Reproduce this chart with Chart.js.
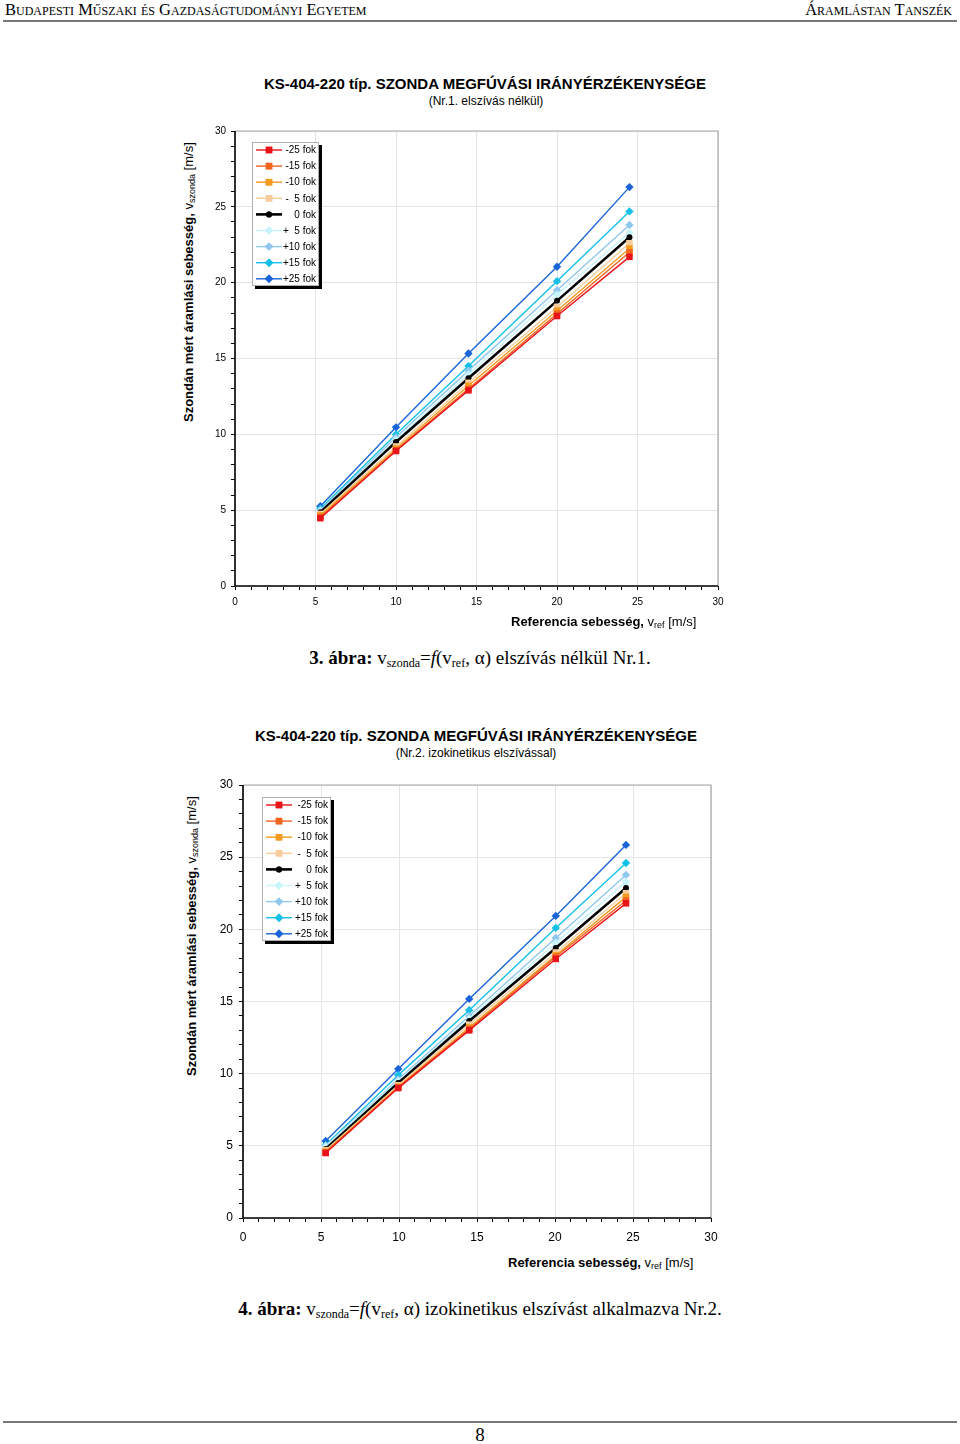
<!DOCTYPE html>
<html><head><meta charset="utf-8">
<script src="https://cdn.jsdelivr.net/npm/chart.js@4/dist/chart.umd.min.js"></script>
<style>
html,body{margin:0;padding:0;background:#fff;}
body{width:960px;height:1444px;position:relative;overflow:hidden;font-family:"Liberation Sans",Arial,sans-serif;}
.abs{position:absolute;}
.hdr{font-family:"Liberation Serif","Times New Roman",serif;font-variant:small-caps;font-size:16.5px;top:0px;color:#000;}
.rule{position:absolute;left:3px;width:954px;height:2px;background:#777;}
.title{position:absolute;width:960px;text-align:center;font-weight:bold;font-size:15px;}
.sub{position:absolute;width:960px;text-align:center;font-size:12px;}
.cap{position:absolute;left:0;width:960px;text-align:center;font-family:"Liberation Serif","Times New Roman",serif;font-size:19px;}
.cap sub{font-size:12px;vertical-align:-3px;line-height:0;}
.axt{position:absolute;font-weight:bold;font-size:13px;white-space:nowrap;}
.axt .n{font-weight:normal;}
.axt sub{font-size:9px;font-weight:normal;vertical-align:-2px;line-height:0;}
.yt{transform-origin:0 0;transform:rotate(-90deg);}
canvas{position:absolute;}
</style></head>
<body>
<div class="abs hdr" style="left:5px;">Budapesti Műszaki és Gazdaságtudományi Egyetem</div>
<div class="abs hdr" style="right:8px;">Áramlástan Tanszék</div>
<div class="rule" style="top:20px;"></div>

<div class="title" style="left:5px;top:75px;">KS-404-220 típ. SZONDA MEGFÚVÁSI IRÁNYÉRZÉKENYSÉGE</div>
<div class="sub" style="left:6px;top:94px;">(Nr.1. elszívás nélkül)</div>
<div style="position:absolute;left:200px;top:120px;width:540px;height:500px;"><canvas id="c1" width="540" height="500"></canvas></div>
<div class="axt yt" style="left:181px;top:422px;">Szondán mért áramlási sebesség, <span class="n">v<sub>szonda</sub> [m/s]</span></div>
<div class="axt" style="left:511px;top:614px;">Referencia sebesség, <span class="n">v<sub>ref</sub> [m/s]</span></div>
<div class="cap" style="top:647px;"><b>3. ábra:</b> v<sub>szonda</sub>=<i>f</i>(v<sub>ref</sub>, α) elszívás nélkül Nr.1.</div>

<div class="title" style="left:-4px;top:727px;">KS-404-220 típ. SZONDA MEGFÚVÁSI IRÁNYÉRZÉKENYSÉGE</div>
<div class="sub" style="left:-4px;top:746px;">(Nr.2. izokinetikus elszívással)</div>
<div style="position:absolute;left:200px;top:770px;width:540px;height:482px;"><canvas id="c2" width="540" height="482"></canvas></div>
<div class="axt yt" style="left:184px;top:1076px;">Szondán mért áramlási sebesség, <span class="n">v<sub>szonda</sub> [m/s]</span></div>
<div class="axt" style="left:508px;top:1255px;">Referencia sebesség, <span class="n">v<sub>ref</sub> [m/s]</span></div>
<div class="cap" style="top:1298px;"><b>4. ábra:</b> v<sub>szonda</sub>=<i>f</i>(v<sub>ref</sub>, α) izokinetikus elszívást alkalmazva Nr.2.</div>

<div class="rule" style="top:1421px;"></div>
<div class="abs" style="left:0;width:960px;text-align:center;top:1424px;font-family:'Liberation Serif',serif;font-size:19px;">8</div>

<script>
// ---- data ----
const seriesLabels = ["-25 fok","-15 fok","-10 fok","-  5 fok","0 fok","+  5 fok","+10 fok","+15 fok","+25 fok"];
const seriesColors = ["#e8141a","#f0641e","#f49a1e","#f8cc9c","#000000","#c8f4fc","#90c8ee","#14c0e8","#1a64d8"];
const seriesMarkers = ["rect","rect","rect","rect","circle","rectRot","rectRot","rectRot","rectRot"];
const xTicks = [0,5,10,15,20,25,30];
const yTicks = [0,5,10,15,20,25,30];

// chart 1 (Nr.1. elszívás nélkül)
const vref1 = [5.3, 10.0, 14.5, 20.0, 24.5];
const c1_m25 = [4.47, 8.90, 12.90, 17.80, 21.70];
const c1_m15 = [4.55, 8.95, 13.00, 17.95, 22.00];
const c1_m10 = [4.65, 9.05, 13.20, 18.15, 22.25];
const c1_m5  = [4.75, 9.20, 13.40, 18.40, 22.60];
const c1_0   = [4.87, 9.50, 13.70, 18.80, 23.00];
const c1_p5  = [4.95, 9.65, 13.95, 19.20, 23.30];
const c1_p10 = [5.00, 9.80, 14.20, 19.50, 23.80];
const c1_p15 = [5.10, 10.00, 14.50, 20.10, 24.70];
const c1_p25 = [5.26, 10.46, 15.33, 21.05, 26.30];

// chart 2 (Nr.2. izokinetikus elszívással)
const vref2 = [5.3, 9.95, 14.5, 20.05, 24.55];
const c2_m25 = [4.50, 9.00, 13.00, 17.95, 21.80];
const c2_m15 = [4.55, 9.05, 13.10, 18.10, 22.00];
const c2_m10 = [4.60, 9.10, 13.20, 18.20, 22.25];
const c2_m5  = [4.70, 9.20, 13.40, 18.40, 22.50];
const c2_0   = [4.78, 9.36, 13.65, 18.70, 22.87];
const c2_p5  = [4.95, 9.50, 13.80, 19.06, 23.30];
const c2_p10 = [5.00, 9.60, 14.00, 19.40, 23.77];
const c2_p15 = [5.06, 9.90, 14.40, 20.10, 24.60];
const c2_p25 = [5.34, 10.33, 15.18, 20.93, 25.85];

function makeDatasets(vref, list){
  return list.map((vals,i)=>({
    label: seriesLabels[i],
    data: vals.map((v,j)=>({x:vref[j], y:v})),
    borderColor: seriesColors[i],
    backgroundColor: seriesColors[i],
    borderWidth: i===4 ? 2.6 : 1.4,
    pointStyle: seriesMarkers[i],
    pointRadius: seriesMarkers[i]==='circle' ? 3 : (seriesMarkers[i]==='rect' ? 4.6 : 4.2),
    pointBorderWidth: 0,
    pointHoverRadius: 4,
    showLine: true,
    tension: 0
  }));
}

const frame = {
  id:'frame',
  afterDraw(chart, args, opts){
    const {ctx, chartArea:a} = chart;
    ctx.save();
    ctx.strokeStyle = '#a8a8a8'; ctx.lineWidth = 1.2;
    ctx.beginPath(); ctx.moveTo(a.left, a.top); ctx.lineTo(a.right, a.top); ctx.lineTo(a.right, a.bottom); ctx.stroke();
    ctx.strokeStyle = '#000'; ctx.lineWidth = 1.6;
    ctx.beginPath(); ctx.moveTo(a.left, a.top); ctx.lineTo(a.left, a.bottom); ctx.lineTo(a.right, a.bottom); ctx.stroke();
    // legend
    const L = opts;
    const x0 = a.left + L.dx, y0 = a.top + L.dy, w = L.w, h = L.h;
    ctx.fillStyle = '#000';
    ctx.fillRect(x0+3, y0+3, w, h);
    ctx.fillStyle = '#fff';
    ctx.fillRect(x0, y0, w, h);
    ctx.strokeStyle = '#b0b0b0'; ctx.lineWidth = 1;
    ctx.strokeRect(x0+0.5, y0+0.5, w-1, h-1);
    ctx.font = L.font + 'px "Liberation Sans", Arial, sans-serif';
    ctx.textAlign = 'right'; ctx.textBaseline = 'middle';
    chart.data.datasets.forEach((ds,i)=>{
      const yy = y0 + 8 + i*L.step;
      ctx.strokeStyle = ds.borderColor; ctx.lineWidth = ds.borderWidth;
      ctx.beginPath(); ctx.moveTo(x0+4, yy); ctx.lineTo(x0+30, yy); ctx.stroke();
      ctx.fillStyle = ds.backgroundColor;
      Chart.helpers.drawPoint(ctx, {pointStyle: ds.pointStyle, radius: ds.pointRadius, rotation:0, borderWidth:0}, x0+17, yy);
      ctx.fill();
      ctx.fillStyle = '#000';
      ctx.fillText(ds.label, x0 + w - 3, yy+0.5);
    });
    ctx.restore();
  }
};

function makeChart(id, datasets, cfg){
  const fnt = {family:'"Liberation Sans", Arial, sans-serif', size: cfg.tickSize};
  return new Chart(document.getElementById(id), {
    type: 'scatter',
    data: {datasets},
    plugins: [frame],
    options: {
      responsive:false, animation:false,
      layout:{padding:{top:cfg.padTop, right:cfg.padRight, left:0, bottom:0}},
      plugins:{legend:{display:false}, tooltip:{enabled:false}, frame: cfg.legend},
      scales:{
        x:{type:'linear', min:xTicks[0], max:xTicks[xTicks.length-1],
           afterFit(s){ s.height = cfg.xh; },
           ticks:{stepSize:1, autoSkip:false, maxRotation:0, color:'#000', font:fnt, padding:cfg.xpad,
                  callback:(v)=> xTicks.includes(v) ? String(v) : ''},
           grid:{color:(c)=> (c.tick && xTicks.includes(c.tick.value)) ? '#e4e4e4' : 'rgba(0,0,0,0)',
                 tickColor:'#000', tickLength:4, drawTicks:true},
           border:{display:false}},
        y:{type:'linear', min:yTicks[0], max:yTicks[yTicks.length-1],
           afterFit(s){ s.width = cfg.yw; },
           ticks:{stepSize:1, autoSkip:false, color:'#000', font:fnt, padding:cfg.ypad,
                  callback:(v)=> yTicks.includes(v) ? String(v) : ''},
           grid:{color:(c)=> (c.tick && yTicks.includes(c.tick.value)) ? '#e4e4e4' : 'rgba(0,0,0,0)',
                 tickColor:'#000', tickLength:4, drawTicks:true},
           border:{display:false}}
      }
    }
  });
}

makeChart('c1', makeDatasets(vref1, [c1_m25,c1_m15,c1_m10,c1_m5,c1_0,c1_p5,c1_p10,c1_p15,c1_p25]),
  {tickSize:10, padTop:10, padRight:22, xh:34, yw:35, xpad:6, ypad:5,
   legend:{dx:17, dy:11, w:67, h:144, step:16.1, font:10}});
makeChart('c2', makeDatasets(vref2, [c2_m25,c2_m15,c2_m10,c2_m5,c2_0,c2_p5,c2_p10,c2_p15,c2_p25]),
  {tickSize:12, padTop:15, padRight:29, xh:34, yw:43, xpad:8, ypad:6,
   legend:{dx:19, dy:12, w:69, h:144, step:16.1, font:10}});
</script>
</body></html>
